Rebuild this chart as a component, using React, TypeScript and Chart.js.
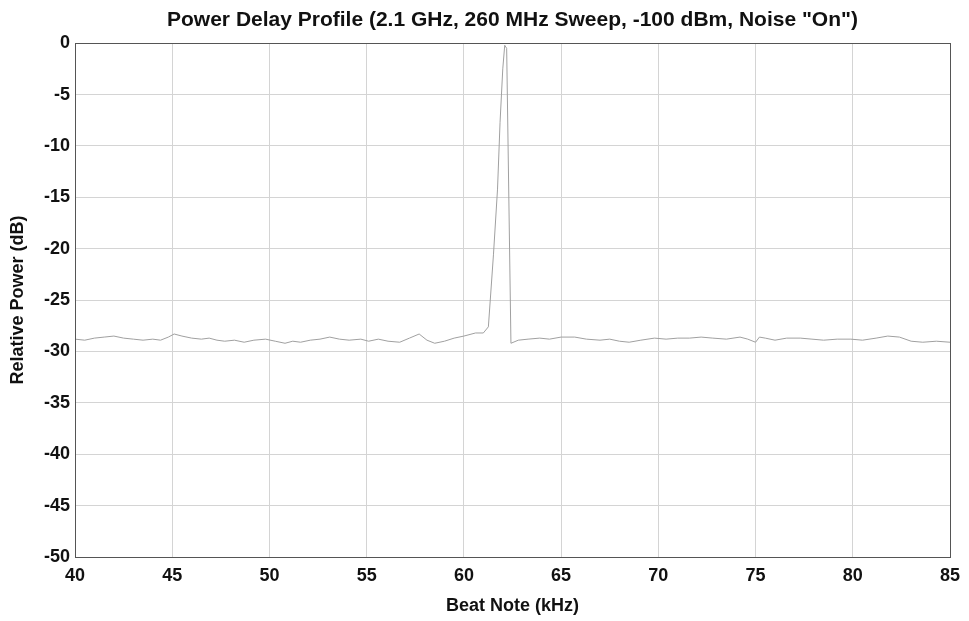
import React, { useEffect, useRef } from "react";
import { Chart, registerables } from "chart.js";

Chart.register(...registerables);

const chartTitle = 'Power Delay Profile (2.1 GHz, 260 MHz Sweep, -100 dBm, Noise "On")';
const xAxisTitle = "Beat Note (kHz)";
const yAxisTitle = "Relative Power (dB)";

const beatNoteKHz = [
  40.0, 40.5, 41.0, 41.5, 42.0, 42.5, 43.0, 43.5, 44.0, 44.4, 44.8, 45.1, 45.5, 46.0, 46.5, 46.9,
  47.3, 47.7, 48.2, 48.7, 49.2, 49.8, 50.3, 50.8, 51.2, 51.6, 52.1, 52.6, 53.1, 53.6, 54.1, 54.7,
  55.1, 55.6, 56.1, 56.7, 57.2, 57.7, 58.1, 58.5, 59.0, 59.5, 60.0, 60.6, 61.0, 61.26, 61.52, 61.73,
  61.86, 62.0, 62.1, 62.2, 62.42, 62.8, 63.3, 63.9, 64.4, 65.0, 65.7, 66.3, 67.0, 67.5, 68.0, 68.5,
  69.1, 69.8, 70.4, 71.0, 71.6, 72.2, 72.8, 73.5, 74.2, 74.6, 75.0, 75.2, 75.5, 76.0, 76.6, 77.3,
  77.9, 78.5, 79.2, 79.9, 80.5, 81.2, 81.8, 82.4, 83.0, 83.6, 84.3, 85.0,
];

const relativePowerDb = [
  -28.8, -28.9, -28.7, -28.6, -28.5, -28.7, -28.8, -28.9, -28.8, -28.9, -28.6, -28.3, -28.5, -28.7, -28.8, -28.7,
  -28.9, -29.0, -28.9, -29.1, -28.9, -28.8, -29.0, -29.2, -29.0, -29.1, -28.9, -28.8, -28.6, -28.8, -28.9, -28.8,
  -29.0, -28.8, -29.0, -29.1, -28.7, -28.3, -28.9, -29.2, -29.0, -28.7, -28.5, -28.2, -28.2, -27.6, -20.6, -14.2,
  -7.7, -2.5, -0.2, -0.5, -29.2, -28.9, -28.8, -28.7, -28.8, -28.6, -28.6, -28.8, -28.9, -28.8, -29.0, -29.1,
  -28.9, -28.7, -28.8, -28.7, -28.7, -28.6, -28.7, -28.8, -28.6, -28.8, -29.1, -28.6, -28.7, -28.9, -28.7, -28.7,
  -28.8, -28.9, -28.8, -28.8, -28.9, -28.7, -28.5, -28.6, -29.0, -29.1, -29.0, -29.1,
];

const xMin = 40;
const xMax = 85;
const xStep = 5;
const yMin = -50;
const yMax = 0;
const yStep = 5;

const FONT = "'Liberation Sans', Arial, sans-serif";

const boxPlugin = {
  id: "plotBox",
  afterDraw(chart: any) {
    const { ctx, chartArea } = chart;
    ctx.save();
    ctx.strokeStyle = "#555";
    ctx.lineWidth = 1;
    ctx.strokeRect(
      Math.round(chartArea.left) + 0.5,
      Math.round(chartArea.top) + 0.5,
      Math.round(chartArea.right - chartArea.left),
      Math.round(chartArea.bottom - chartArea.top)
    );
    ctx.restore();
  },
};

const whiteBg = {
  id: "whiteBg",
  beforeDraw(chart: any) {
    const { ctx, width, height } = chart;
    ctx.save();
    ctx.fillStyle = "#fff";
    ctx.fillRect(0, 0, width, height);
    ctx.restore();
  },
};

export default function App() {
  const canvasRef = useRef<HTMLCanvasElement | null>(null);

  useEffect(() => {
    document.body.style.margin = "0";
    const canvas = canvasRef.current;
    if (!canvas) return;
    const points = beatNoteKHz.map((x, i) => ({ x, y: relativePowerDb[i] }));
    const chart = new Chart(canvas, {
      type: "line",
      data: {
        datasets: [
          {
            data: points,
            borderColor: "#a0a0a0",
            borderWidth: 1,
            pointRadius: 0,
            tension: 0,
            fill: false,
          },
        ],
      },
      plugins: [whiteBg, boxPlugin],
      options: {
        animation: false,
        responsive: false,
        maintainAspectRatio: false,
        layout: { padding: { left: 0, right: 19, top: 0, bottom: 0 } },
        plugins: {
          legend: { display: false },
          tooltip: { enabled: false },
          title: {
            display: true,
            fullSize: false,
            text: chartTitle,
            color: "#111",
            font: { family: FONT, size: 21, weight: "bold" },
            padding: { top: 8, bottom: 10 },
          },
        },
        scales: {
          x: {
            type: "linear",
            min: xMin,
            max: xMax,
            ticks: {
              stepSize: xStep,
              color: "#111",
              font: { family: FONT, size: 18, weight: "bold" },
              padding: 8,
              maxRotation: 0,
            },
            grid: { color: "#d4d4d4", drawTicks: false },
            border: { color: "#555" },
            title: {
              display: true,
              text: xAxisTitle,
              color: "#111",
              font: { family: FONT, size: 18, weight: "bold" },
              padding: { top: 0, bottom: 4 },
            },
            afterFit(scale: any) {
              scale.height = 64;
            },
          },
          y: {
            min: yMin,
            max: yMax,
            ticks: {
              stepSize: yStep,
              color: "#111",
              font: { family: FONT, size: 18, weight: "bold" },
              padding: 5,
            },
            grid: { color: "#d4d4d4", drawTicks: false },
            border: { color: "#555" },
            title: {
              display: true,
              text: yAxisTitle,
              color: "#111",
              font: { family: FONT, size: 18, weight: "bold" },
              padding: { top: 7, bottom: 0 },
            },
            afterFit(scale: any) {
              scale.width = 75;
            },
          },
        },
      },
    });
    return () => chart.destroy();
  }, []);

  return (
    <div style={{ position: "absolute", left: 0, top: 0, width: 969, height: 621, background: "#fff" }}>
      <canvas ref={canvasRef} width={969} height={621} style={{ width: 969, height: 621, display: "block" }} />
    </div>
  );
}
